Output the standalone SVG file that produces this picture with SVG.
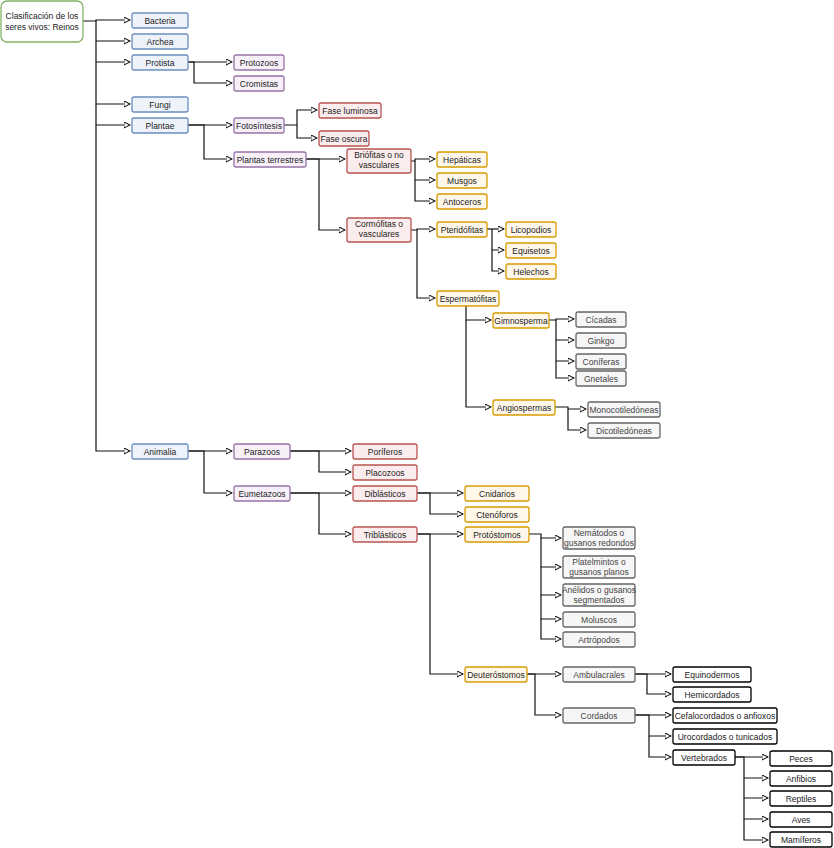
<svg xmlns="http://www.w3.org/2000/svg" width="834" height="848" viewBox="0 0 834 848">
<style>
rect{stroke-width:1.3}
.b rect{fill:#eef3fb;stroke:#6c8ebf}
.p rect{fill:#f7f0f9;stroke:#9673a6}
.r rect{fill:#fbeded;stroke:#b85450}
.o rect{fill:#fff8ea;stroke:#d79b00}
.g rect{fill:#f6f6f6;stroke:#666}
.k rect{fill:#fff;stroke:#000}
.gr rect{fill:#fff;stroke:#82b366}
text{font-family:"Liberation Sans",Arial,sans-serif;font-size:8.5px;fill:#222;text-anchor:middle}
.g text{fill:#444}
#c path{fill:none;stroke:#111;stroke-width:1.2;marker-end:url(#a)}
</style>
<defs><marker id="a" viewBox="0 0 8 8" refX="7" refY="4" markerWidth="7" markerHeight="7" markerUnits="userSpaceOnUse" orient="auto"><path d="M0,0.5 L7,4 L0,7.5 Z" fill="#fff" stroke="#111" stroke-width="1.2"/></marker></defs>
<g id="c">
<path d="M83,21 H96 V20 H130"/><path d="M96,21 V41 H130"/><path d="M96,41 V62 H130"/><path d="M96,62 V104 H130"/><path d="M96,104 V125 H130"/><path d="M96,125 V451 H130"/>
<path d="M188,62 H232"/><path d="M188,62 H194 V83 H232"/>
<path d="M188,125 H232"/><path d="M188,125 H204 V159 H232"/>
<path d="M284,125 H297 V110 H317"/><path d="M297,125 V138 H317"/>
<path d="M306,159 H345"/><path d="M306,159 H319 V230 H345"/>
<path d="M411,161 H415 V159 H435"/><path d="M415,161 V180 H435"/><path d="M415,180 V201 H435"/>
<path d="M411,230 H417 V229 H435"/><path d="M417,230 V298 H435"/>
<path d="M487,229 H492 V229 H504"/><path d="M492,229 V250 H504"/><path d="M492,250 V271 H504"/>
<path d="M466,306 V320 H491"/><path d="M466,320 V407 H491"/>
<path d="M549,320 H556 V319 H574"/><path d="M556,320 V340 H574"/><path d="M556,340 V361 H574"/><path d="M556,361 V378 H574"/>
<path d="M555,407 H568 V409 H586"/><path d="M568,409 V430 H586"/>
<path d="M188,451 H232"/><path d="M188,451 H204 V493 H232"/>
<path d="M290,451 H351"/><path d="M290,451 H319 V472 H351"/>
<path d="M290,493 H351"/><path d="M290,493 H319 V534 H351"/>
<path d="M417,493 H463"/><path d="M417,493 H430 V514 H463"/>
<path d="M417,534 H463"/><path d="M417,534 H430 V674 H463"/>
<path d="M529,534 H541 V538 H561"/><path d="M541,538 V567 H561"/><path d="M541,567 V595 H561"/><path d="M541,595 V619 H561"/><path d="M541,619 V639 H561"/>
<path d="M527,674 H561"/><path d="M527,674 H535 V715 H561"/>
<path d="M635,674 H671"/><path d="M635,674 H647 V694 H671"/>
<path d="M635,715 H671"/><path d="M635,715 H649 V736 H671"/><path d="M649,736 V757 H671"/>
<path d="M735,757 H768"/><path d="M735,757 H744 V778 H768"/><path d="M744,778 V798 H768"/><path d="M744,798 V819 H768"/><path d="M744,819 V840 H768"/>
</g>
<g id="root" class="gr"><rect x="1" y="1" width="82" height="41" rx="6"/><text x="42" y="19">Clasificación de los</text><text x="42" y="30">seres vivos: Reinos</text></g>
<g id="bacteria" class="b"><rect x="132" y="13" width="56" height="15" rx="2"/><text x="160" y="23.5">Bacteria</text></g>
<g id="archea" class="b"><rect x="132" y="34" width="56" height="15" rx="2"/><text x="160" y="44.5">Archea</text></g>
<g id="protista" class="b"><rect x="132" y="55" width="56" height="15" rx="2"/><text x="160" y="65.5">Protista</text></g>
<g id="fungi" class="b"><rect x="132" y="97" width="56" height="15" rx="2"/><text x="160" y="107.5">Fungi</text></g>
<g id="plantae" class="b"><rect x="132" y="118" width="56" height="15" rx="2"/><text x="160" y="128.5">Plantae</text></g>
<g id="animalia" class="b"><rect x="132" y="444" width="56" height="15" rx="2"/><text x="160" y="454.5">Animalia</text></g>
<g id="protozoos" class="p"><rect x="234" y="55" width="50" height="15" rx="2"/><text x="259" y="65.5">Protozoos</text></g>
<g id="cromistas" class="p"><rect x="234" y="76" width="50" height="15" rx="2"/><text x="259" y="86.5">Cromistas</text></g>
<g id="fotosintesis" class="p"><rect x="234" y="118" width="50" height="15" rx="2"/><text x="259" y="128.5">Fotosíntesis</text></g>
<g id="plantasterrestres" class="p"><rect x="234" y="152" width="72" height="15" rx="2"/><text x="270" y="162.5">Plantas terrestres</text></g>
<g id="parazoos" class="p"><rect x="234" y="444" width="56" height="15" rx="2"/><text x="262" y="454.5">Parazoos</text></g>
<g id="eumetazoos" class="p"><rect x="234" y="486" width="56" height="15" rx="2"/><text x="262" y="496.5">Eumetazoos</text></g>
<g id="faseluminosa" class="r"><rect x="319" y="103" width="62" height="15" rx="2"/><text x="350" y="113.5">Fase luminosa</text></g>
<g id="faseoscura" class="r"><rect x="319" y="131" width="50" height="15" rx="2"/><text x="344" y="141.5">Fase oscura</text></g>
<g id="briofitas" class="r"><rect x="347" y="149" width="64" height="24" rx="2"/><text x="379" y="158">Briófitas o no</text><text x="379" y="168">vasculares</text></g>
<g id="cormofitas" class="r"><rect x="347" y="218" width="64" height="24" rx="2"/><text x="379" y="227">Cormófitas o</text><text x="379" y="237">vasculares</text></g>
<g id="poriferos" class="r"><rect x="353" y="444" width="64" height="15" rx="2"/><text x="385" y="454.5">Poríferos</text></g>
<g id="placozoos" class="r"><rect x="353" y="465" width="64" height="15" rx="2"/><text x="385" y="475.5">Placozoos</text></g>
<g id="diblasticos" class="r"><rect x="353" y="486" width="64" height="15" rx="2"/><text x="385" y="496.5">Diblásticos</text></g>
<g id="triblasticos" class="r"><rect x="353" y="527" width="64" height="15" rx="2"/><text x="385" y="537.5">Triblásticos</text></g>
<g id="hepaticas" class="o"><rect x="437" y="152" width="50" height="15" rx="2"/><text x="462" y="162.5">Hepáticas</text></g>
<g id="musgos" class="o"><rect x="437" y="173" width="50" height="15" rx="2"/><text x="462" y="183.5">Musgos</text></g>
<g id="antoceros" class="o"><rect x="437" y="194" width="50" height="15" rx="2"/><text x="462" y="204.5">Antoceros</text></g>
<g id="pteridofitas" class="o"><rect x="437" y="222" width="50" height="15" rx="2"/><text x="462" y="232.5">Pteridófitas</text></g>
<g id="espermatofitas" class="o"><rect x="437" y="291" width="62" height="15" rx="2"/><text x="468" y="301.5">Espermatófitas</text></g>
<g id="licopodios" class="o"><rect x="506" y="222" width="50" height="15" rx="2"/><text x="531" y="232.5">Licopodios</text></g>
<g id="equisetos" class="o"><rect x="506" y="243" width="50" height="15" rx="2"/><text x="531" y="253.5">Equisetos</text></g>
<g id="helechos" class="o"><rect x="506" y="264" width="50" height="15" rx="2"/><text x="531" y="274.5">Helechos</text></g>
<g id="gimnosperma" class="o"><rect x="493" y="313" width="56" height="15" rx="2"/><text x="521" y="323.5">Gimnosperma</text></g>
<g id="angiospermas" class="o"><rect x="493" y="400" width="62" height="15" rx="2"/><text x="524" y="410.5">Angiospermas</text></g>
<g id="cnidarios" class="o"><rect x="465" y="486" width="64" height="15" rx="2"/><text x="497" y="496.5">Cnidarios</text></g>
<g id="ctenoforos" class="o"><rect x="465" y="507" width="64" height="15" rx="2"/><text x="497" y="517.5">Ctenóforos</text></g>
<g id="protostomos" class="o"><rect x="465" y="527" width="64" height="15" rx="2"/><text x="497" y="537.5">Protóstomos</text></g>
<g id="deuterostomos" class="o"><rect x="465" y="667" width="62" height="15" rx="2"/><text x="496" y="677.5">Deuteróstomos</text></g>
<g id="cicadas" class="g"><rect x="576" y="312" width="50" height="15" rx="2"/><text x="601" y="322.5">Cícadas</text></g>
<g id="ginkgo" class="g"><rect x="576" y="333" width="50" height="15" rx="2"/><text x="601" y="343.5">Ginkgo</text></g>
<g id="coniferas" class="g"><rect x="576" y="354" width="50" height="15" rx="2"/><text x="601" y="364.5">Coníferas</text></g>
<g id="gnetales" class="g"><rect x="576" y="371" width="50" height="15" rx="2"/><text x="601" y="381.5">Gnetales</text></g>
<g id="monocotiledoneas" class="g"><rect x="588" y="402" width="72" height="15" rx="2"/><text x="624" y="412.5">Monocotiledóneas</text></g>
<g id="dicotiledoneas" class="g"><rect x="588" y="423" width="72" height="15" rx="2"/><text x="624" y="433.5">Dicotiledóneas</text></g>
<g id="nematodos" class="g"><rect x="563" y="527" width="72" height="22" rx="2"/><text x="599" y="536">Nemátodos o</text><text x="599" y="546">gusanos redondos</text></g>
<g id="platelmintos" class="g"><rect x="563" y="556" width="72" height="22" rx="2"/><text x="599" y="565">Platelmintos o</text><text x="599" y="575">gusanos planos</text></g>
<g id="anelidos" class="g"><rect x="563" y="584" width="72" height="22" rx="2"/><text x="599" y="593">Anélidos o gusanos</text><text x="599" y="603">segmentados</text></g>
<g id="moluscos" class="g"><rect x="563" y="612" width="72" height="15" rx="2"/><text x="599" y="622.5">Moluscos</text></g>
<g id="artropodos" class="g"><rect x="563" y="632" width="72" height="15" rx="2"/><text x="599" y="642.5">Artrópodos</text></g>
<g id="ambulacrales" class="g"><rect x="563" y="667" width="72" height="15" rx="2"/><text x="599" y="677.5">Ambulacrales</text></g>
<g id="cordados" class="g"><rect x="563" y="708" width="72" height="15" rx="2"/><text x="599" y="718.5">Cordados</text></g>
<g id="equinodermos" class="k"><rect x="673" y="667" width="78" height="15" rx="2"/><text x="712" y="677.5">Equinodermos</text></g>
<g id="hemicordados" class="k"><rect x="673" y="687" width="78" height="15" rx="2"/><text x="712" y="697.5">Hemicordados</text></g>
<g id="cefalocordados" class="k"><rect x="673" y="708" width="104" height="15" rx="2"/><text x="725" y="718.5">Cefalocordados o anfioxos</text></g>
<g id="urocordados" class="k"><rect x="673" y="729" width="104" height="15" rx="2"/><text x="725" y="739.5">Urocordados o tunicados</text></g>
<g id="vertebrados" class="k"><rect x="673" y="750" width="62" height="15" rx="2"/><text x="704" y="760.5">Vertebrados</text></g>
<g id="peces" class="k"><rect x="770" y="751" width="62" height="15" rx="2"/><text x="801" y="761.5">Peces</text></g>
<g id="anfibios" class="k"><rect x="770" y="771" width="62" height="15" rx="2"/><text x="801" y="781.5">Anfibios</text></g>
<g id="reptiles" class="k"><rect x="770" y="791" width="62" height="15" rx="2"/><text x="801" y="801.5">Reptiles</text></g>
<g id="aves" class="k"><rect x="770" y="812" width="62" height="15" rx="2"/><text x="801" y="822.5">Aves</text></g>
<g id="mamiferos" class="k"><rect x="770" y="832" width="62" height="15" rx="2"/><text x="801" y="842.5">Mamíferos</text></g>
</svg>
